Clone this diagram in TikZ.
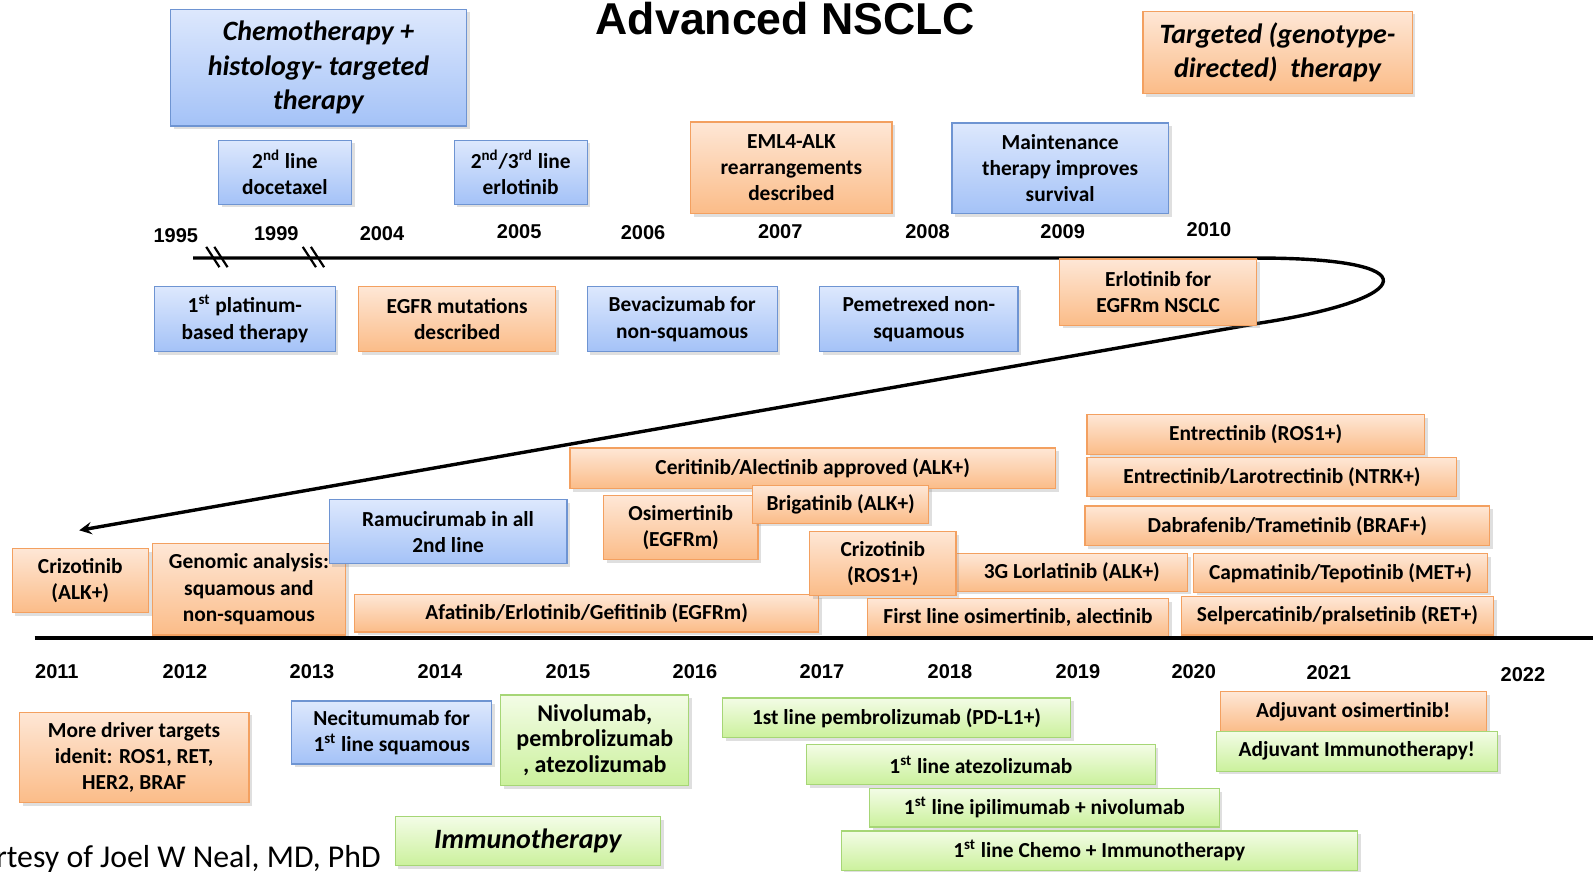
\documentclass[tikz,border=0pt]{standalone}
\usepackage{fontspec}
\setmainfont{Carlito}
\newfontfamily\arialfont{Liberation Sans}
\usetikzlibrary{shadows}
\definecolor{blue-top}{HTML}{DDE8FD}
\definecolor{blue-bottom}{HTML}{A4C2F7}
\definecolor{blue-edge}{HTML}{6E94D2}
\definecolor{orange-top}{HTML}{FEE7D6}
\definecolor{orange-bottom}{HTML}{FBBC88}
\definecolor{orange-edge}{HTML}{F3A060}
\definecolor{green-top}{HTML}{F3FCE6}
\definecolor{green-bottom}{HTML}{CBF19C}
\definecolor{green-edge}{HTML}{A6D676}

\begin{document}
\begin{tikzpicture}[
    x=0.508pt, y=-0.508pt,
    box/.style={
        draw, line width=0.6pt, inner sep=0pt, align=center,
        font=\fontsize{10.7}{13.2}\selectfont\bfseries,
        drop shadow={opacity=0.25, shadow xshift=1.6pt, shadow yshift=-1.6pt},
    },
    span/.style args={#1/#2/#3/#4}{
        minimum width={(#3-#1)*0.508pt}, minimum height={(#4-#2)*0.508pt},
        at={({(#1+#3)/2},{(#2+#4)/2})},
    },
    blue box/.style={ box, draw=blue-edge, top color=blue-top, bottom color=blue-bottom, },
    orange box/.style={ box, draw=orange-edge, top color=orange-top, bottom color=orange-bottom, },
    green box/.style={ box, draw=green-edge, top color=green-top, bottom color=green-bottom, },
    heading/.style={ font=\fontsize{14}{17.3}\selectfont\bfseries\itshape, },
    year/.style={ font=\arialfont\fontsize{10}{12}\selectfont\bfseries, inner sep=1pt, },
    timeline/.style={ line width=1.7pt, },
]
\useasboundingbox (0,0) rectangle (1568,858);

\node[font=\arialfont\fontsize{22.3}{26}\selectfont\bfseries, anchor=base] (title) at (773,34) {Advanced NSCLC};

% first timeline, 1995 - 2010, folding back
\coordinate (tl-start) at (190,254);
\coordinate (tl-end) at (1238,254);
\coordinate (tl-back) at (1240,318);
\coordinate (tl-tip) at (78,522);
\draw[timeline, -stealth] (tl-start) -- (tl-end)
    .. controls (1410,254) and (1395,294) .. (tl-back) -- (tl-tip);
\foreach \bx in {214,309} {
    \draw[line width=1.1pt] (\bx-11,243) -- (\bx+2,263);
    \draw[line width=1.1pt] (\bx-3,243) -- (\bx+10,263);
}
\foreach \yr/\x/\y in {1995/173/232, 1999/272/230, 2004/376/230, 2005/511/228,
    2006/633/229, 2007/768/228, 2008/913/228, 2009/1046/228, 2010/1190/226}
    \node[year] (y\yr) at (\x,\y) {\yr};

\node[blue box, heading, span=168/9/459/124] (chemo) {Chemotherapy +\\histology- targeted\\therapy};
\node[orange box, heading, span=1125/11/1390/92] (targeted) {Targeted (genotype-\\directed)~ therapy};
\node[blue box, span=215/138/346/201] (docetaxel) {2\textsuperscript{nd} line\\docetaxel};
\node[blue box, span=447/138/578/201] (erlotinib) {2\textsuperscript{nd}/3\textsuperscript{rd} line\\erlotinib};
\node[orange box, span=680/120/878/210] (eml4) {EML4-ALK\\rearrangements\\described};
\node[blue box, span=937/121/1150/210] (maint) {Maintenance\\therapy improves\\survival};
\node[blue box, span=152/282/330/346] (platinum) {1\textsuperscript{st} platinum-\\based therapy};
\node[orange box, span=353/282/547/346] (egfrmut) {EGFR mutations\\described};
\node[blue box, span=578/282/765/346] (bevacizumab) {Bevacizumab for\\non-squamous};
\node[blue box, span=807/282/1002/346] (pemetrexed) {Pemetrexed non-\\squamous};
\node[orange box, span=1043/255/1237/320] (erlotinib-egfrm) {Erlotinib for\\EGFRm NSCLC};

% second timeline, 2011 - 2022
\node[orange box, span=12/540/146/603] (crizotinib-alk) {Crizotinib\\(ALK+)};
\node[orange box, span=150/535/340/625] (genomic) {Genomic analysis:\\squamous and\\non-squamous};
\node[blue box, span=324/492/558/555] (ramucirumab) {Ramucirumab in all\\2nd line};
\node[orange box, span=349/585/806/622] (afatinib) {Afatinib/Erlotinib/Gefitinib (EGFRm)};
\node[orange box, span=561/441/1039/481] (ceritinib) {Ceritinib/Alectinib approved (ALK+)};
\node[orange box, span=594/488/746/551] (osimertinib) {Osimertinib\\(EGFRm)};
\node[orange box, span=741/478/914/515] (brigatinib) {Brigatinib (ALK+)};
\node[orange box, span=941/545/1169/582] (lorlatinib) {3G Lorlatinib (ALK+)};
\node[orange box, span=797/523/941/586] (crizotinib-ros) {Crizotinib\\(ROS1+)};
\node[orange box, span=854/589/1150/627] (firstline) {First line osimertinib, alectinib};
\node[orange box, span=1070/408/1402/447] (entrectinib) {Entrectinib (ROS1+)};
\node[orange box, span=1070/450/1434/489] (larotrectinib) {Entrectinib/Larotrectinib (NTRK+)};
\node[orange box, span=1068/498/1466/537] (dabrafenib) {Dabrafenib/Trametinib (BRAF+)};
\node[orange box, span=1175/545/1464/583] (capmatinib) {Capmatinib/Tepotinib (MET+)};
\node[orange box, span=1163/587/1470/625] (selpercatinib) {Selpercatinib/pralsetinib (RET+)};

\coordinate (bl-start) at (34,628);
\coordinate (bl-end) at (1568,628);
\draw[timeline, line width=2pt] (bl-start) -- (bl-end);
\foreach \yr/\x/\y in {2011/56/661, 2012/182/661, 2013/307/661, 2014/433/661,
    2015/559/661, 2016/684/661, 2017/809/661, 2018/935/661, 2019/1061/661,
    2020/1175/661, 2021/1308/662, 2022/1499/664}
    \node[year] (y\yr) at (\x,\y) {\yr};

\node[orange box, span=19/701/245/790] (drivers) {More driver targets\\idenit: ROS1, RET,\\HER2, BRAF};
\node[blue box, span=287/690/484/752] (necitumumab) {Necitumumab for\\1\textsuperscript{st} line squamous};
\node[green box, font=\fontsize{12}{12.7}\selectfont\bfseries, span=493/684/678/773] (nivolumab) {Nivolumab,\\pembrolizumab\\, atezolizumab};
\node[green box, span=711/687/1054/726] (pembrolizumab) {1st line pembrolizumab (PD-L1+)};
\node[green box, span=794/733/1137/772] (atezolizumab) {1\textsuperscript{st} line atezolizumab};
\node[green box, span=856/776/1200/814] (ipilimumab) {1\textsuperscript{st} line ipilimumab + nivolumab};
\node[green box, span=828/818/1336/857] (chemo-io) {1\textsuperscript{st} line Chemo + Immunotherapy};
\node[orange box, span=1201/681/1463/720] (adj-osimertinib) {Adjuvant osimertinib!};
\node[green box, span=1197/720/1474/759] (adj-io) {Adjuvant Immunotherapy!};
\node[green box, heading, span=389/804/650/852] (immuno) {Immunotherapy};

\node[font=\fontsize{15.9}{18}\selectfont, anchor=base east, inner sep=0pt] (credit) at (375,854) {Courtesy of Joel W Neal, MD, PhD};
\end{tikzpicture}
\end{document}
